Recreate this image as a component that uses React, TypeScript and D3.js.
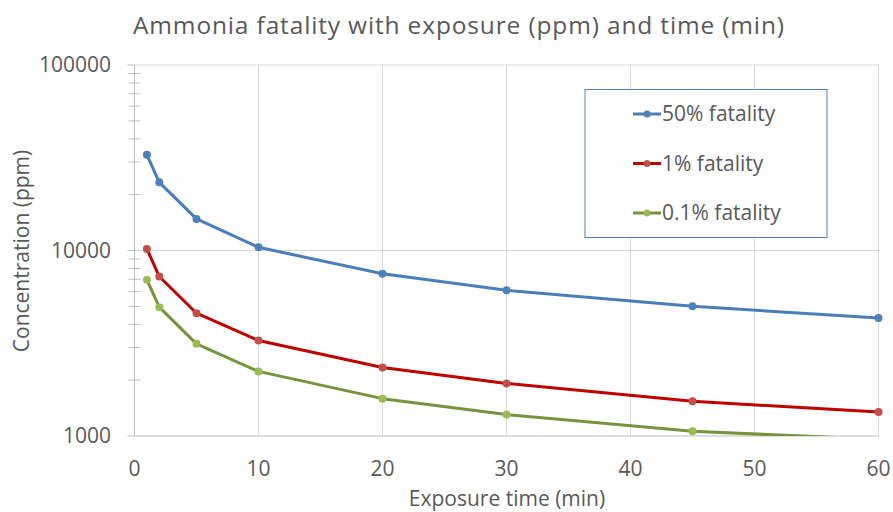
import React from "react";
import * as d3 from "d3";

const times = [1, 2, 5, 10, 20, 30, 45, 60];
const fatal50 = [32800, 23300, 14800, 10400, 7500, 6100, 5000, 4320];
const fatal1 = [10200, 7240, 4590, 3270, 2340, 1920, 1540, 1345];
const fatal01 = [6950, 4950, 3140, 2230, 1590, 1305, 1060, 960];
const seriesNames = ["50% fatality", "1% fatality", "0.1% fatality"];
const xTicks = [0, 10, 20, 30, 40, 50, 60];
const yTicks = [1000, 10000, 100000];

const W = 893;
const H = 512;
const FONT = "'Open Sans', sans-serif";
const TXT = "#595959";

export default function App() {
  const x = d3.scaleLinear().domain([0, 60]).range([134.5, 878.5]);
  const y = d3.scaleLog().domain([1000, 100000]).range([436, 65]);
  const series = [
    { name: seriesNames[0], values: fatal50, line: "#4A7EBB", marker: "#4F81BD" },
    { name: seriesNames[1], values: fatal1, line: "#C00000", marker: "#C0504D" },
    { name: seriesNames[2], values: fatal01, line: "#77933C", marker: "#9BBB59" },
  ];
  const lineGen = d3
    .line<[number, number]>()
    .x((d) => x(d[0]))
    .y((d) => y(d[1]));
  const minor: number[] = [];
  [1000, 10000].forEach((b) => {
    for (let k = 2; k <= 9; k++) minor.push(b * k);
  });
  const [x0, x1] = x.range();
  const [yb, yt] = y.range();

  return (
    <svg
      width={W}
      height={H}
      style={{ position: "absolute", left: 0, top: 0, background: "#fff" }}
      fontFamily={FONT}
    >
      <defs>
        <clipPath id="plot">
          <rect x={x0 - 6} y={yt - 6} width={x1 - x0 + 12} height={yb - yt + 6} />
        </clipPath>
      </defs>
      <rect width={W} height={H} fill="#fff" />
      {/* title */}
      <text x={133} y={34} fontSize={24.5} fill={TXT} textLength={651} lengthAdjust="spacing">
        Ammonia fatality with exposure (ppm) and time (min)
      </text>
      {/* gridlines */}
      {xTicks.filter((t) => t > 0).map((t) => (
        <line key={"gx" + t} x1={x(t)} x2={x(t)} y1={yt} y2={yb} stroke="#D9D9D9" strokeWidth={1} />
      ))}
      {yTicks.filter((t) => t > 1000).map((t) => (
        <line key={"gy" + t} x1={x0} x2={x1} y1={y(t)} y2={y(t)} stroke="#D9D9D9" strokeWidth={1} />
      ))}
      {/* axes */}
      <line x1={x0} x2={x0} y1={yt} y2={yb} stroke="#BFBFBF" strokeWidth={1} />
      <line x1={x0} x2={x1} y1={yb} y2={yb} stroke="#BFBFBF" strokeWidth={1} />
      {yTicks.map((t) => (
        <line key={"ty" + t} x1={x0 - 7} x2={x0} y1={y(t)} y2={y(t)} stroke="#BFBFBF" />
      ))}
      {minor.map((t) => (
        <line key={"my" + t} x1={x0 - 6} x2={x0 + 6} y1={y(t)} y2={y(t)} stroke="#BFBFBF" />
      ))}
      {yTicks.map((t) => (
        <text key={"ly" + t} x={111} y={y(t)} dy="0.35em" textAnchor="end" fontSize={21} fill={TXT}>
          {t}
        </text>
      ))}
      {xTicks.map((t) => (
        <text key={"lx" + t} x={x(t)} y={476} textAnchor="middle" fontSize={21} fill={TXT}>
          {t}
        </text>
      ))}
      <text x={507} y={506} textAnchor="middle" fontSize={21} fill={TXT}>
        Exposure time (min)
      </text>
      <text
        transform={`translate(29,251) rotate(-90)`}
        textAnchor="middle"
        fontSize={21}
        fill={TXT}
      >
        Concentration (ppm)
      </text>
      {/* series */}
      <g clipPath="url(#plot)">
        {series.map((s) => {
          const pts = times.map((t, i) => [t, s.values[i]] as [number, number]);
          return (
            <g key={s.name}>
              <path d={lineGen(pts) || ""} fill="none" stroke={s.line} strokeWidth={3} strokeLinejoin="round" />
              {pts
                .filter((p) => p[1] >= 1000)
                .map((p, i) => (
                  <circle key={i} cx={x(p[0])} cy={y(p[1])} r={4} fill={s.marker} />
                ))}
            </g>
          );
        })}
      </g>
      {/* legend */}
      <rect x={585} y={89.5} width={242} height={148} fill="#fff" stroke="#4F81BD" strokeWidth={1} />
      {series.map((s, i) => {
        const ly = 114 + i * 49.5;
        return (
          <g key={"lg" + i}>
            <line x1={633} x2={661} y1={ly} y2={ly} stroke={s.line} strokeWidth={3} />
            <circle cx={647} cy={ly} r={3.5} fill={s.marker} />
            <text x={662} y={ly} dy="0.35em" fontSize={21} fill={TXT}>
              {s.name}
            </text>
          </g>
        );
      })}
    </svg>
  );
}
